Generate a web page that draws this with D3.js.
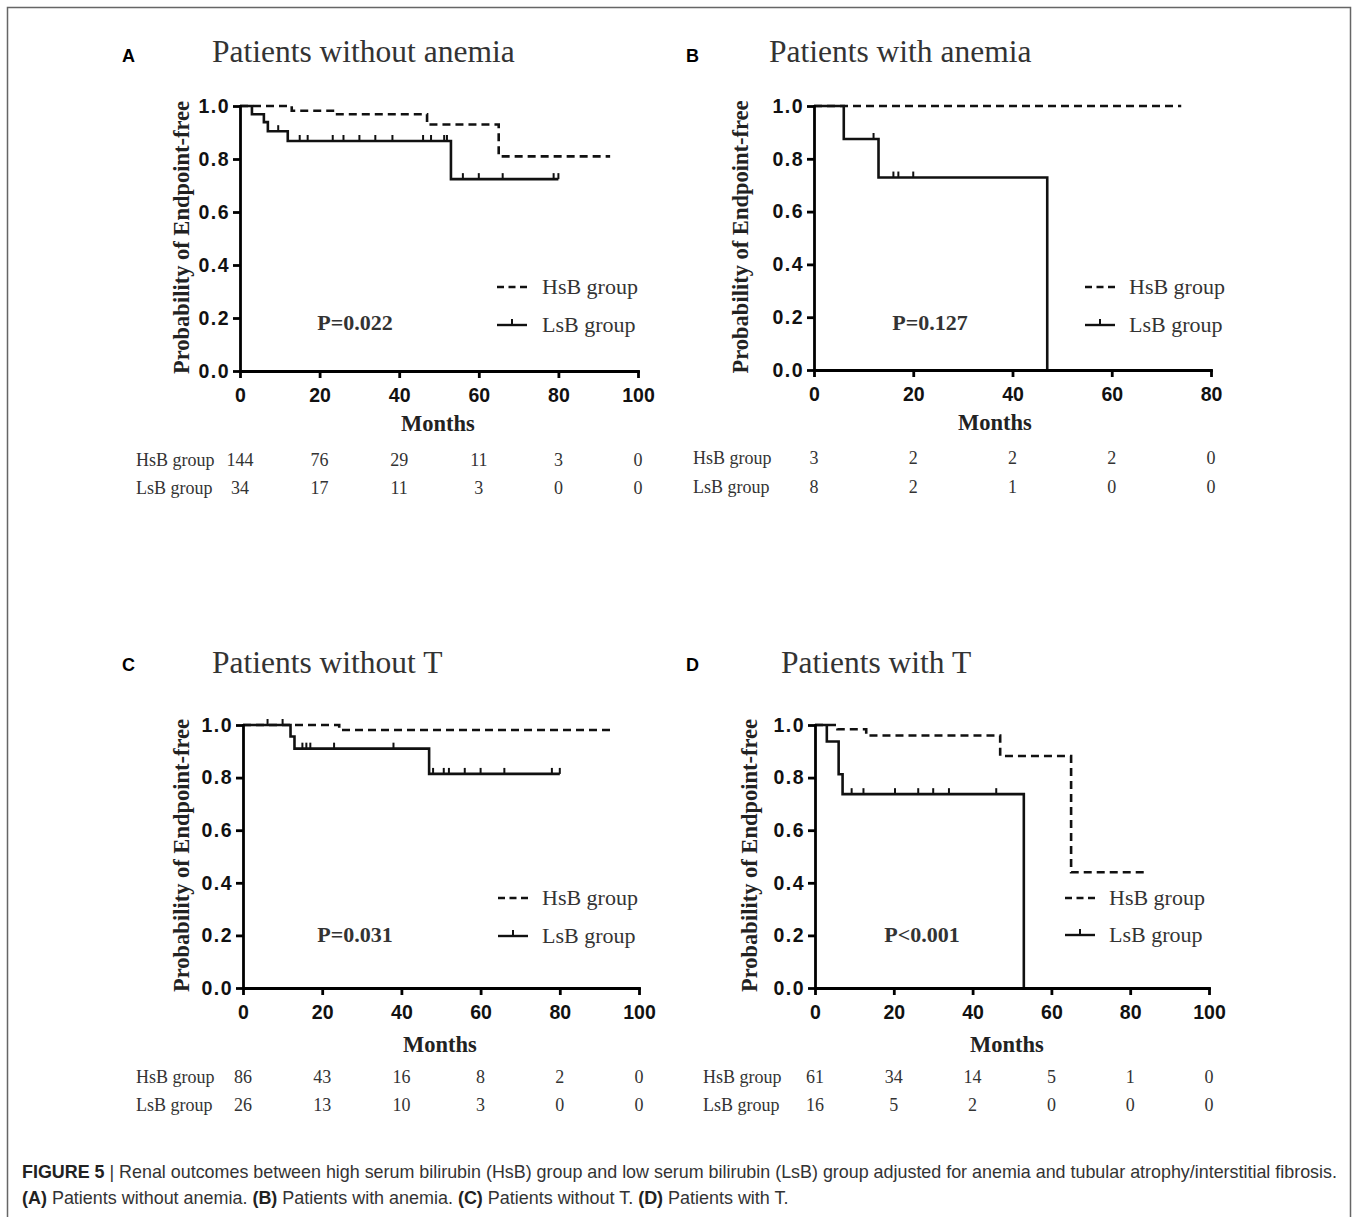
<!DOCTYPE html>
<html>
<head>
<meta charset="utf-8">
<script src="https://cdn.jsdelivr.net/npm/d3@7"></script>
<style>
  body { margin: 0; background: #fff; }
  svg { display: block; }
</style>
</head>
<body>
<div id="chart"></div>
<script>
// km steps: [month, probability] where the curve drops
const aHsbSteps = [[0, 1], [13, 0.982], [24, 0.969], [47, 0.93], [65, 0.81]];
const aHsbEnd = 93;
const aLsbSteps = [[0, 1], [3, 0.969], [6, 0.939], [7, 0.905], [12, 0.868], [53, 0.724]];
const aLsbEnd = 80;
const aLsbCensor = [9.6, 15, 17, 23.3, 26, 30, 34, 38.3, 46, 48, 51.3, 52, 56, 60, 66, 78.8, 80];

const bHsbSteps = [[0, 1]];
const bHsbEnd = 74;
const bLsbSteps = [[0, 1], [6, 0.875], [13, 0.729], [47, 0]];
const bLsbEnd = 47;
const bLsbCensor = [12, 16, 17, 20];

const cHsbSteps = [[0, 1], [24.3, 0.981]];
const cHsbEnd = 93;
const cLsbSteps = [[0, 1], [12, 0.956], [13, 0.91], [47, 0.814]];
const cLsbEnd = 80;
const cLsbCensor = [6.2, 10, 15, 16, 17, 23, 38, 48, 50.7, 52, 56, 60, 66, 78, 80];

const dHsbSteps = [[0, 1], [5.7, 0.984], [13, 0.96], [47, 0.882], [65, 0.44]];
const dHsbEnd = 84.5;
const dLsbSteps = [[0, 1], [3, 0.937], [6, 0.813], [7, 0.737], [53, 0]];
const dLsbEnd = 53;
const dLsbCensor = [9.3, 12.3, 20.3, 26.2, 30, 34, 46];

// number at risk
const aRiskHsb = [144, 76, 29, 11, 3, 0];
const aRiskLsb = [34, 17, 11, 3, 0, 0];
const bRiskHsb = [3, 2, 2, 2, 0];
const bRiskLsb = [8, 2, 1, 0, 0];
const cRiskHsb = [86, 43, 16, 8, 2, 0];
const cRiskLsb = [26, 13, 10, 3, 0, 0];
const dRiskHsb = [61, 34, 14, 5, 1, 0];
const dRiskLsb = [16, 5, 2, 0, 0, 0];

// ticks
const xTicks100 = [0, 20, 40, 60, 80, 100];
const xTicks80 = [0, 20, 40, 60, 80];
const yTicks = [0, 0.2, 0.4, 0.6, 0.8, 1.0];

const groupNames = ['HsB group', 'LsB group'];
const titles = ['Patients without anemia', 'Patients with anemia', 'Patients without T', 'Patients with T'];
const letters = ['A', 'B', 'C', 'D'];
const pTexts = ['P=0.022', 'P=0.127', 'P=0.031', 'P<0.001'];

const SERIF = '"Liberation Serif", "Times New Roman", serif';
const SANS = '"Liberation Sans", Arial, sans-serif';

const W = 1357, H = 1217;

const svg = d3.select('#chart').append('svg')
  .attr('width', W)
  .attr('height', H)
  .attr('viewBox', `0 0 ${W} ${H}`);

svg.append('rect').attr('width', W).attr('height', H).attr('fill', '#fff');

// frame
svg.append('rect')
  .attr('x', 7.5).attr('y', 7.5)
  .attr('width', 1343).attr('height', H + 20)
  .attr('fill', 'none')
  .attr('stroke', '#666')
  .attr('stroke-width', 1.5);

const panels = [
  {
    left: 240, right: 638, top: 106, bottom: 371, xMax: 100, ticks: xTicks100,
    hsb: aHsbSteps, hsbEnd: aHsbEnd, lsb: aLsbSteps, lsbEnd: aLsbEnd, censor: aLsbCensor,
    riskH: aRiskHsb, riskL: aRiskLsb,
    letterX: 122, letterY: 62, titleX: 212, titleY: 62,
    ylabX: 181, monthsX: 438, monthsY: 431,
    legX: 497, legY1: 287, legY2: 325, legTextX: 542,
    pX: 355, pY: 330,
    riskLabelX: 136, riskY1: 466, riskY2: 494
  },
  {
    left: 814, right: 1211, top: 106, bottom: 370, xMax: 80, ticks: xTicks80,
    hsb: bHsbSteps, hsbEnd: bHsbEnd, lsb: bLsbSteps, lsbEnd: bLsbEnd, censor: bLsbCensor,
    riskH: bRiskHsb, riskL: bRiskLsb,
    letterX: 686, letterY: 62, titleX: 769, titleY: 62,
    ylabX: 740, monthsX: 995, monthsY: 430,
    legX: 1085, legY1: 287, legY2: 325, legTextX: 1129,
    pX: 930, pY: 330,
    riskLabelX: 693, riskY1: 464, riskY2: 493
  },
  {
    left: 243, right: 639, top: 725, bottom: 988, xMax: 100, ticks: xTicks100,
    hsb: cHsbSteps, hsbEnd: cHsbEnd, lsb: cLsbSteps, lsbEnd: cLsbEnd, censor: cLsbCensor,
    riskH: cRiskHsb, riskL: cRiskLsb,
    letterX: 122, letterY: 671, titleX: 212, titleY: 673,
    ylabX: 181, monthsX: 440, monthsY: 1052,
    legX: 498, legY1: 898, legY2: 936, legTextX: 542,
    pX: 355, pY: 942,
    riskLabelX: 136, riskY1: 1083, riskY2: 1111
  },
  {
    left: 815, right: 1209, top: 725, bottom: 988, xMax: 100, ticks: xTicks100,
    hsb: dHsbSteps, hsbEnd: dHsbEnd, lsb: dLsbSteps, lsbEnd: dLsbEnd, censor: dLsbCensor,
    riskH: dRiskHsb, riskL: dRiskLsb,
    letterX: 686, letterY: 671, titleX: 781, titleY: 673,
    ylabX: 749, monthsX: 1007, monthsY: 1052,
    legX: 1065, legY1: 898, legY2: 935, legTextX: 1109,
    pX: 922, pY: 942,
    riskLabelX: 703, riskY1: 1083, riskY2: 1111
  }
];

function survAt(steps, t) {
  let s = 1;
  steps.forEach(([tt, v]) => { if (tt <= t) s = v; });
  return s;
}

function drawPanel(p, i) {
  const x = d3.scaleLinear().domain([0, p.xMax]).range([p.left, p.right]);
  const y = d3.scaleLinear().domain([0, 1]).range([p.bottom, p.top]);
  const g = svg.append('g');

  // letter + title
  g.append('text')
    .attr('x', p.letterX).attr('y', p.letterY)
    .style('font-family', SANS).style('font-weight', 'bold').style('font-size', '18px')
    .attr('fill', '#000')
    .text(letters[i]);
  g.append('text')
    .attr('x', p.titleX).attr('y', p.titleY)
    .style('font-family', SERIF).style('font-size', '31.5px')
    .attr('fill', '#333')
    .text(titles[i]);

  // curves
  const line = d3.line()
    .x(d => x(d[0]))
    .y(d => y(d[1]))
    .curve(d3.curveStepAfter);

  const hsbPts = p.hsb.concat([[p.hsbEnd, p.hsb[p.hsb.length - 1][1]]]);
  const lsbPts = p.lsb.concat([[p.lsbEnd, p.lsb[p.lsb.length - 1][1]]]);

  g.append('path')
    .datum(hsbPts)
    .attr('d', line)
    .attr('fill', 'none')
    .attr('stroke', '#111')
    .attr('stroke-width', 2.6)
    .attr('stroke-dasharray', '8,5');

  g.append('path')
    .datum(lsbPts)
    .attr('d', line)
    .attr('fill', 'none')
    .attr('stroke', '#111')
    .attr('stroke-width', 2.6);

  // censor marks
  g.selectAll('.censor')
    .data(p.censor)
    .enter()
    .append('line')
    .attr('x1', d => x(d)).attr('x2', d => x(d))
    .attr('y1', d => y(survAt(p.lsb, d)))
    .attr('y2', d => y(survAt(p.lsb, d)) - 6)
    .attr('stroke', '#111')
    .attr('stroke-width', 2);

  // axes
  const xAxis = g.append('g')
    .attr('transform', `translate(0,${p.bottom})`)
    .call(d3.axisBottom(x).tickValues(p.ticks).tickSize(7).tickSizeOuter(0).tickPadding(10).tickFormat(d3.format('d')));
  const yAxis = g.append('g')
    .attr('transform', `translate(${p.left},0)`)
    .call(d3.axisLeft(y).tickValues(yTicks).tickSize(7).tickSizeOuter(0).tickPadding(3).tickFormat(d3.format('.1f')));

  [xAxis, yAxis].forEach(a => {
    a.select('.domain').attr('stroke', '#000').attr('stroke-width', 2.8).attr('stroke-linecap', 'square');
    a.selectAll('.tick line').attr('stroke', '#000').attr('stroke-width', 2.8);
    a.selectAll('.tick text')
      .attr('fill', '#111')
      .style('font-family', SANS).style('font-weight', 'bold').style('font-size', '19.5px');
  });
  yAxis.selectAll('.tick text').style('letter-spacing', '1.5px');

  // axis titles
  g.append('text')
    .attr('x', p.monthsX).attr('y', p.monthsY)
    .attr('text-anchor', 'middle')
    .style('font-family', SERIF).style('font-weight', 'bold').style('font-size', '22.5px')
    .attr('fill', '#222')
    .text('Months');
  g.append('text')
    .attr('transform', `translate(${p.ylabX},${(p.top + p.bottom) / 2 - 1}) rotate(-90)`)
    .attr('text-anchor', 'middle')
    .attr('dy', '0.35em')
    .style('font-family', SERIF).style('font-weight', 'bold').style('font-size', '22.5px')
    .attr('fill', '#222')
    .text('Probability of Endpoint-free');

  // legend
  g.append('line')
    .attr('x1', p.legX).attr('x2', p.legX + 30)
    .attr('y1', p.legY1).attr('y2', p.legY1)
    .attr('stroke', '#111').attr('stroke-width', 2.4)
    .attr('stroke-dasharray', '7,4.5');
  g.append('line')
    .attr('x1', p.legX).attr('x2', p.legX + 30)
    .attr('y1', p.legY2).attr('y2', p.legY2)
    .attr('stroke', '#111').attr('stroke-width', 2.4);
  g.append('line')
    .attr('x1', p.legX + 15).attr('x2', p.legX + 15)
    .attr('y1', p.legY2).attr('y2', p.legY2 - 6)
    .attr('stroke', '#111').attr('stroke-width', 2);
  [p.legY1, p.legY2].forEach((ly, k) => {
    g.append('text')
      .attr('x', p.legTextX).attr('y', ly)
      .attr('dy', '0.32em')
      .style('font-family', SERIF).style('font-size', '22px')
      .attr('fill', '#333')
      .text(groupNames[k]);
  });

  // p value
  g.append('text')
    .attr('x', p.pX).attr('y', p.pY)
    .attr('text-anchor', 'middle')
    .style('font-family', SERIF).style('font-weight', 'bold').style('font-size', '22px')
    .attr('fill', '#333')
    .text(pTexts[i]);

  // number at risk table
  [[p.riskH, p.riskY1], [p.riskL, p.riskY2]].forEach(([vals, ry], k) => {
    g.append('text')
      .attr('x', p.riskLabelX).attr('y', ry)
      .style('font-family', SERIF).style('font-size', '18px')
      .attr('fill', '#333')
      .text(groupNames[k]);
    g.selectAll(null)
      .data(vals)
      .enter()
      .append('text')
      .attr('x', (d, j) => x(p.ticks[j]))
      .attr('y', ry)
      .attr('text-anchor', 'middle')
      .style('font-family', SERIF).style('font-size', '18px')
      .attr('fill', '#333')
      .text(d => d);
  });
}

panels.forEach(drawPanel);

// caption: drawn at natural size, then squeezed horizontally to the reference width
function captionLine(parts, yPos, targetWidth) {
  const t = svg.append('text')
    .attr('x', 0).attr('y', 0)
    .style('font-family', SANS).style('font-size', '18.5px')
    .attr('fill', '#333');
  parts.forEach(([s, b]) => {
    t.append('tspan')
      .style('font-weight', b ? 'bold' : 'normal')
      .attr('fill', b ? '#222' : '#333')
      .text(s);
  });
  const w = t.node().getComputedTextLength();
  t.attr('transform', `translate(22,${yPos}) scale(${targetWidth / w},1)`);
}

captionLine([
  ['FIGURE 5', true],
  [' | Renal outcomes between high serum bilirubin (HsB) group and low serum bilirubin (LsB) group adjusted for anemia and tubular atrophy/interstitial fibrosis.', false]
], 1178, 1316);

captionLine([
  ['(A)', true], [' Patients without anemia. ', false],
  ['(B)', true], [' Patients with anemia. ', false],
  ['(C)', true], [' Patients without T. ', false],
  ['(D)', true], [' Patients with T.', false]
], 1204, 767);
</script>
</body>
</html>
